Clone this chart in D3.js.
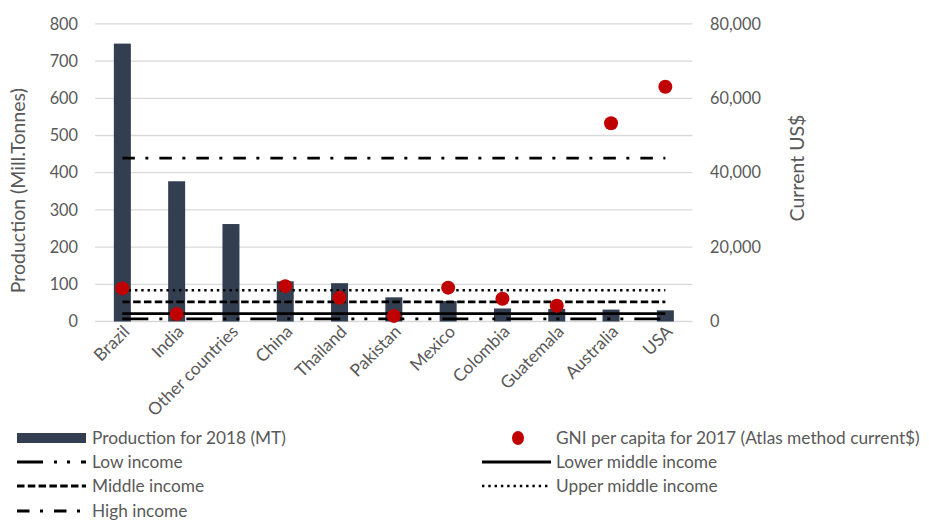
<!DOCTYPE html>
<html>
<head>
<meta charset="utf-8">
<script src="https://cdn.jsdelivr.net/npm/d3@7"></script>
<style>
  html, body { margin: 0; padding: 0; background: #fff; }
  svg { display: block; }
  text { font-family: Lato, "Open Sans", "Liberation Sans", sans-serif; fill: #595959; }
</style>
</head>
<body>
<svg id="chart" width="929" height="528"></svg>
<script>
// Sugarcane production 2018 and GNI per capita 2017
const countries = ["Brazil", "India", "Other countries", "China", "Thailand", "Pakistan",
                   "Mexico", "Colombia", "Guatemala", "Australia", "USA"];
const production = [747, 377, 262, 108, 103, 65, 55, 35, 34, 32, 30];      // Mill. tonnes
const gniPerCapita = [8900, 2000, null, 9500, 6400, 1500, 9100, 6100, 4250, 53300, 63100]; // current US$

// Income-group reference levels (current US$)
const incomeGroups = ["Low income", "Lower middle income", "Middle income", "Upper middle income", "High income"];
const incomeLevels = [700, 2100, 5250, 8400, 43900];

const leftTicks = [0, 100, 200, 300, 400, 500, 600, 700, 800];
const rightTicks = [0, 20000, 40000, 60000, 80000];
const gridTicks = leftTicks;

// dash patterns per income group
const dashStyles = {
  "Low income": "26,11,3,10,3,11",
  "Lower middle income": null,
  "Middle income": "7.5,3.3",
  "Upper middle income": "2.4,3.9",
  "High income": "12.5,10.5,3,11"
};

const svg = d3.select("#chart");
const plot = { left: 95.2, right: 692.5, top: 23.9, bottom: 321.5 };

const x = d3.scaleBand()
  .domain(countries)
  .range([plot.left, plot.right])
  .paddingInner(0.687)
  .paddingOuter(0.687 / 2);

const yL = d3.scaleLinear().domain([0, 800]).range([plot.bottom, plot.top]);
const yR = d3.scaleLinear().domain([0, 80000]).range([plot.bottom, plot.top]);

const cx = c => x(c) + x.bandwidth() / 2;

// gridlines
svg.append("g")
  .selectAll("line")
  .data(gridTicks)
  .join("line")
  .attr("x1", plot.left).attr("x2", plot.right)
  .attr("y1", d => yL(d)).attr("y2", d => yL(d))
  .attr("stroke", "#d9d9d9").attr("stroke-width", 1.3);

// left axis
const axisL = d3.axisLeft(yL).tickValues(leftTicks).tickSize(0).tickPadding(0);
const gL = svg.append("g").attr("transform", `translate(78,0)`).call(axisL);
gL.select(".domain").remove();
gL.selectAll("text").attr("font-size", 16.3).attr("fill", "#595959")
  .style("font-family", "Lato, 'Open Sans', sans-serif");

// right axis
const axisR = d3.axisRight(yR).tickValues(rightTicks).tickSize(0).tickPadding(0)
  .tickFormat(d3.format(","));
const gR = svg.append("g").attr("transform", `translate(710,0)`).call(axisR);
gR.select(".domain").remove();
gR.selectAll("text").attr("font-size", 16.3).attr("fill", "#595959")
  .style("font-family", "Lato, 'Open Sans', sans-serif");

// axis titles
svg.append("text")
  .attr("transform", `translate(25,${(plot.top + plot.bottom) / 2 + 18}) rotate(-90)`)
  .attr("text-anchor", "middle")
  .attr("font-size", 19.5)
  .text("Production (Mill.Tonnes)");

svg.append("text")
  .attr("transform", `translate(804,168) rotate(-90)`)
  .attr("text-anchor", "middle")
  .attr("font-size", 19.5)
  .text("Current US$");

// category labels
svg.append("g")
  .selectAll("text")
  .data(countries)
  .join("text")
  .attr("transform", c => `translate(${cx(c) + 4},${plot.bottom + 7}) rotate(-45)`)
  .attr("text-anchor", "end")
  .attr("dy", "0.35em")
  .attr("font-size", 17.3)
  .text(c => c);

// production bars
svg.append("g")
  .selectAll("rect")
  .data(countries)
  .join("rect")
  .attr("x", c => x(c))
  .attr("width", x.bandwidth())
  .attr("y", (c, i) => yL(production[i]))
  .attr("height", (c, i) => yL(0) - yL(production[i]))
  .attr("fill", "#333f50");

// income reference lines, first to last category centre
svg.append("g")
  .selectAll("line")
  .data(incomeGroups)
  .join("line")
  .attr("x1", cx(countries[0]))
  .attr("x2", cx(countries[countries.length - 1]))
  .attr("y1", (g, i) => yR(incomeLevels[i]))
  .attr("y2", (g, i) => yR(incomeLevels[i]))
  .attr("stroke", "#000")
  .attr("stroke-width", g => g === "Upper middle income" ? 2.4 : 2.8)
  .attr("stroke-dasharray", g => dashStyles[g]);

// GNI markers
svg.append("g")
  .selectAll("circle")
  .data(countries.map((c, i) => ({ c, v: gniPerCapita[i] })).filter(d => d.v != null))
  .join("circle")
  .attr("cx", d => cx(d.c))
  .attr("cy", d => yR(d.v))
  .attr("r", 7)
  .attr("fill", "#c00000");

// legend
const legend = svg.append("g").attr("font-size", 17.3);
const rowY = [438, 462, 486, 511];
const col1 = { x0: 17, x1: 86, tx: 92 };
const col2 = { x0: 482, x1: 551, tx: 556 };

function legendText(col, y, label) {
  legend.append("text").attr("x", col.tx).attr("y", y).attr("dy", "0.35em").text(label);
}
function legendLine(col, y, group) {
  legend.append("line")
    .attr("x1", col.x0).attr("x2", col.x1).attr("y1", y).attr("y2", y)
    .attr("stroke", "#000")
    .attr("stroke-width", group === "Upper middle income" ? 2.4 : 2.8)
    .attr("stroke-dasharray", dashStyles[group]);
  legendText(col, y, group);
}

legend.append("rect").attr("x", col1.x0).attr("y", rowY[0] - 5).attr("width", col1.x1 - col1.x0).attr("height", 10)
  .attr("fill", "#333f50");
legendText(col1, rowY[0], "Production for 2018 (MT)");
legend.append("ellipse").attr("cx", 518).attr("cy", rowY[0]).attr("rx", 6).attr("ry", 7).attr("fill", "#c00000");
legendText(col2, rowY[0], "GNI per capita for 2017 (Atlas method current$)");

legendLine(col1, rowY[1], "Low income");
legendLine(col2, rowY[1], "Lower middle income");
legendLine(col1, rowY[2], "Middle income");
legendLine(col2, rowY[2], "Upper middle income");
legendLine(col1, rowY[3], "High income");
</script>
</body>
</html>
